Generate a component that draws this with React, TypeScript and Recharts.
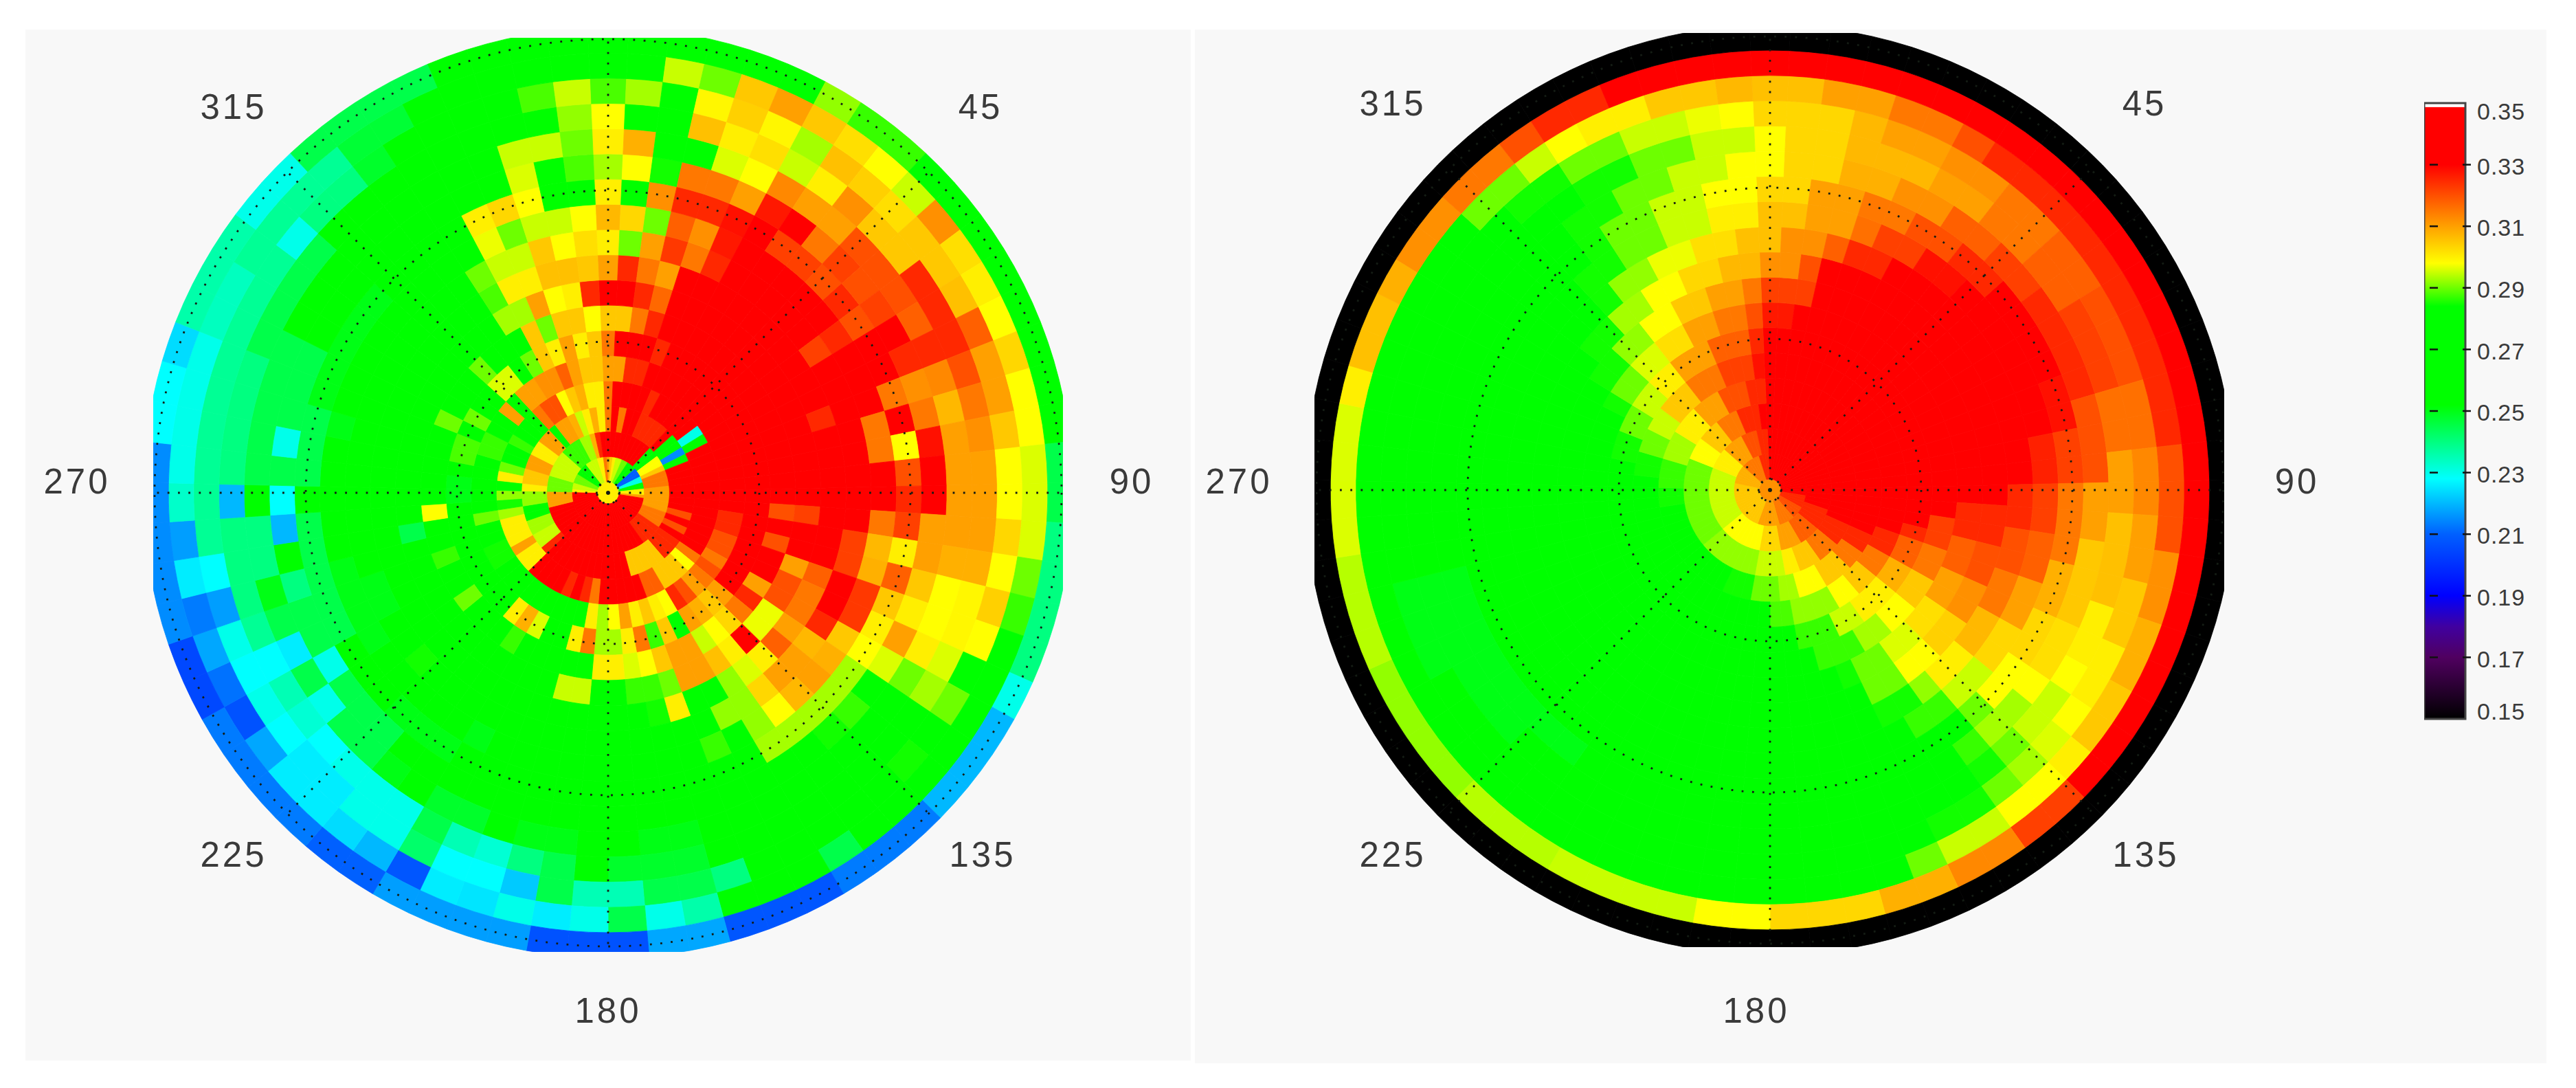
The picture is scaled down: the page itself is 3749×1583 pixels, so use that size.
import { Area, AreaChart, Cell, Pie, PieChart, PolarGrid, ReferenceArea, XAxis, YAxis } from "recharts";

// every ring is a list of [clockwise degrees from north, value]; a value holds until the next entry
type Ring = number[][];

const sectorCount = 71;

const leftCenter: Ring = [[0, .3]];
const left00: Ring = [[0, .31], [5, .305], [10, .3], [15, .295], [25, .29], [35, .275], [50, .21], [65, .23], [75, .27], [85, .3], [95, .31], [100, .33], [270, .3], [275, .295], [285, .29], [300, .283], [320, .295], [340, .3], [350, .315]];
const left01: Ring = [[0, .33], [45, .27], [55, .298], [62, .305], [70, .315], [85, .31], [110, .315], [125, .325], [145, .33], [255, .31], [270, .29], [285, .295], [310, .287], [330, .293], [340, .308], [347, .325], [350, .33]];
const left02: Ring = [[0, .315], [3, .33], [10, .315], [15, .33], [25, .325], [45, .33], [48, .27], [58, .215], [63, .26], [69, .33], [103, .32], [110, .33], [113, .32], [118, .33], [125, .325], [140, .305], [165, .33], [226, .325], [233, .295], [243, .293], [253, .28], [262, .292], [270, .3], [277, .305], [288, .31], [299, .3], [307, .31], [316, .27], [323, .31], [330, .308], [338, .295], [342, .3], [346, .308], [351, .3], [355, .315]];
const left03: Ring = [[0, .315], [3, .33], [23, .325], [28, .33], [53, .23], [58, .27], [63, .33], [125, .315], [131, .298], [136, .305], [152, .318], [160, .33], [187, .315], [192, .325], [197, .33], [201, .325], [207, .33], [228, .3], [234, .31], [243, .3], [255, .293], [261, .285], [266, .292], [271, .27], [276, .3], [282, .29], [289, .27], [295, .287], [302, .27], [318, .315], [324, .32], [330, .298], [337, .305], [342, .308], [347, .3]];
const left04: Ring = [[0, .31], [8, .325], [18, .33], [100, .325], [110, .32], [118, .315], [123, .32], [128, .315], [133, .31], [138, .32], [143, .325], [149, .298], [155, .3], [160, .305], [165, .3], [171, .31], [176, .298], [182, .293], [187, .3], [192, .27], [235, .285], [248, .27], [255, .29], [262, .27], [286, .287], [296, .27], [305, .31], [314, .27], [318, .31], [326, .312], [335, .31], [339, .318], [344, .31], [349, .305], [355, .31]];
const left05: Ring = [[0, .315], [3, .33], [20, .325], [25, .33], [130, .31], [134, .305], [138, .308], [143, .31], [149, .27], [155, .305], [160, .287], [166, .315], [172, .3], [176, .293], [184, .315], [191, .3], [196, .27], [204, .296], [209, .308], [215, .3], [222, .27], [268, .25], [276, .27], [283, .288], [290, .27], [296, .29], [302, .27], [313, .296], [320, .275], [325, .29], [330, .305], [336, .3], [341, .31], [346, .3], [351, .305], [357, .315]];
const left06: Ring = [[0, .305], [8, .315], [13, .325], [18, .33], [94, .32], [100, .33], [104, .32], [110, .33], [119, .31], [125, .325], [130, .315], [135, .303], [140, .298], [145, .295], [151, .31], [158, .305], [164, .298], [170, .296], [176, .3], [183, .283], [188, .27], [211, .287], [216, .27], [231, .29], [236, .27], [245, .287], [251, .27], [261, .298], [266, .27], [291, .29], [296, .27], [312, .29], [318, .27], [333, .305], [338, .29], [344, .305], [350, .298], [355, .31]];
const left07: Ring = [[0, .33], [8, .325], [13, .317], [18, .33], [93, .322], [100, .33], [108, .31], [116, .32], [125, .297], [133, .33], [139, .3], [145, .306], [151, .31], [158, .29], [165, .287], [176, .27], [184, .295], [196, .27], [256, .245], [262, .27], [296, .283], [302, .27], [328, .293], [335, .31], [341, .298], [347, .3], [352, .325], [357, .33]];
const left08: Ring = [[0, .31], [3, .325], [8, .315], [13, .31], [18, .33], [68, .325], [74, .33], [108, .318], [116, .315], [124, .31], [130, .318], [135, .3], [140, .296], [145, .292], [151, .27], [158, .3], [165, .285], [172, .27], [210, .28], [216, .27], [240, .255], [246, .27], [306, .283], [312, .27], [326, .288], [334, .3], [341, .306], [352, .305]];
const left09: Ring = [[0, .3], [3, .29], [8, .31], [13, .323], [18, .315], [23, .325], [27, .33], [53, .322], [58, .33], [100, .322], [108, .33], [117, .325], [124, .307], [130, .31], [137, .303], [144, .292], [156, .27], [166, .283], [174, .27], [225, .285], [231, .27], [240, .25], [250, .27], [300, .283], [308, .27], [326, .29], [334, .295], [341, .305], [347, .298], [353, .302]];
const left10: Ring = [[0, .307], [3, .303], [8, .29], [12, .318], [17, .312], [22, .327], [27, .33], [53, .325], [58, .33], [73, .315], [83, .33], [94, .315], [99, .307], [105, .308], [110, .323], [118, .305], [123, .308], [128, .31], [135, .307], [140, .298], [146, .292], [152, .27], [155, .287], [160, .283], [167, .27], [205, .25], [211, .27], [235, .25], [255, .27], [272, .255], [278, .27], [282, .25], [287, .27], [330, .297], [338, .29], [343, .295], [352, .298]];
const left11: Ring = [[0, .3], [3, .283], [8, .312], [13, .325], [23, .328], [28, .33], [33, .322], [43, .32], [48, .325], [53, .32], [58, .33], [68, .315], [73, .33], [78, .298], [84, .32], [88, .325], [94, .322], [99, .3], [104, .318], [110, .305], [114, .3], [120, .298], [126, .293], [152, .27], [208, .25], [216, .27], [218, .25], [226, .27], [240, .245], [268, .26], [272, .245], [285, .25], [305, .27], [306, .25], [311, .27], [330, .3], [336, .303], [341, .298], [346, .283], [356, .298]];
const left12: Ring = [[0, .293], [3, .298], [8, .285], [13, .315], [23, .31], [28, .327], [33, .33], [36, .315], [41, .322], [46, .32], [51, .322], [57, .33], [63, .325], [68, .312], [73, .315], [78, .328], [84, .33], [87, .32], [90, .33], [96, .31], [103, .305], [108, .3], [113, .31], [118, .296], [124, .27], [129, .287], [134, .285], [140, .27], [222, .245], [236, .23], [241, .245], [250, .24], [256, .258], [261, .22], [266, .228], [271, .245], [277, .23], [282, .245], [295, .27], [332, .283], [338, .277], [342, .296], [347, .27], [352, .288], [358, .3]];
const left13: Ring = [[0, .3], [3, .308], [8, .27], [13, .283], [18, .296], [23, .298], [28, .313], [33, .31], [43, .32], [58, .318], [63, .325], [69, .313], [74, .307], [79, .31], [101, .308], [106, .298], [114, .3], [119, .29], [124, .27], [167, .25], [177, .27], [183, .25], [193, .262], [198, .248], [210, .255], [216, .25], [222, .245], [230, .23], [236, .245], [241, .226], [246, .245], [250, .25], [255, .24], [266, .26], [271, .245], [295, .27], [343, .295], [352, .29], [358, .292]];
const left14: Ring = [[0, .298], [3, .27], [8, .283], [13, .306], [18, .3], [23, .302], [28, .295], [33, .3], [38, .312], [43, .305], [53, .325], [70, .32], [73, .315], [78, .312], [84, .31], [100, .308], [105, .299], [115, .296], [118, .288], [120, .293], [125, .284], [130, .27], [167, .248], [178, .255], [184, .245], [190, .24], [196, .232], [202, .235], [207, .245], [212, .23], [225, .228], [232, .232], [236, .235], [240, .228], [247, .238], [252, .24], [266, .22], [272, .24], [290, .245], [310, .27], [352, .292], [358, .298]];
const left15: Ring = [[0, .288], [3, .293], [8, .27], [13, .299], [18, .304], [23, .299], [28, .293], [33, .306], [38, .304], [43, .302], [48, .305], [58, .306], [63, .318], [68, .31], [79, .305], [84, .298], [96, .303], [101, .298], [106, .304], [111, .298], [116, .27], [120, .29], [125, .27], [130, .285], [135, .27], [160, .24], [165, .245], [175, .235], [185, .245], [190, .222], [195, .228], [205, .242], [210, .23], [222, .226], [230, .228], [236, .23], [240, .228], [245, .23], [250, .217], [256, .228], [261, .238], [305, .24], [307, .23], [313, .24], [320, .248], [329, .27], [347, .288], [352, .295], [357, .288]];
const left16: Ring = [[0, .27], [8, .295], [15, .29], [20, .305], [25, .31], [30, .305], [35, .302], [40, .298], [45, .295], [50, .312], [55, .302], [60, .3], [65, .298], [70, .303], [75, .298], [84, .296], [100, .29], [105, .287], [110, .27], [140, .253], [145, .245], [150, .253], [165, .236], [170, .23], [175, .245], [180, .23], [185, .226], [190, .23], [195, .225], [200, .226], [205, .208], [210, .22], [215, .224], [220, .226], [230, .218], [235, .207], [240, .212], [245, .218], [250, .213], [255, .226], [260, .217], [265, .233], [270, .23], [290, .234], [300, .238], [320, .247], [332, .252], [338, .27]];
const left17: Ring = [[0, .27], [18, .282], [23, .27], [28, .292], [34, .287], [44, .27], [84, .245], [94, .24], [114, .23], [119, .22], [135, .213], [150, .208], [165, .218], [175, .207], [190, .217], [210, .21], [221, .213], [241, .205], [251, .215], [276, .228], [285, .224], [292, .236], [307, .23], [318, .245], [337, .27]];

const rightCenter: Ring = [[0, .312]];
const right00: Ring = [[0, .33], [100, .325], [120, .32], [140, .315], [165, .31], [200, .305], [280, .308], [310, .315], [340, .325]];
const right01: Ring = [[0, .33], [110, .325], [130, .318], [150, .31], [170, .303], [190, .298], [230, .295], [290, .3], [310, .31], [330, .32], [345, .325], [355, .33]];
const right02: Ring = [[0, .33], [112, .325], [128, .315], [142, .305], [158, .3], [172, .295], [190, .292], [230, .29], [290, .298], [308, .305], [322, .315], [338, .325], [350, .33]];
const right03: Ring = [[0, .33], [112, .325], [125, .315], [135, .305], [148, .298], [163, .293], [175, .29], [192, .285], [205, .275], [230, .27], [262, .285], [272, .287], [288, .293], [303, .3], [318, .31], [333, .32], [345, .325], [355, .33]];
const right04: Ring = [[0, .33], [108, .325], [118, .315], [130, .305], [140, .298], [152, .292], [168, .288], [182, .284], [195, .27], [275, .285], [285, .29], [295, .295], [308, .305], [323, .315], [338, .322], [350, .328]];
const right05: Ring = [[0, .33], [102, .325], [110, .318], [120, .308], [130, .3], [142, .295], [157, .287], [172, .27], [282, .285], [290, .29], [300, .295], [310, .3], [323, .31], [338, .318], [350, .325]];
const right06: Ring = [[0, .327], [8, .33], [97, .322], [108, .315], [120, .305], [130, .298], [140, .293], [150, .287], [165, .27], [295, .285], [302, .29], [310, .296], [320, .302], [330, .31], [340, .315], [350, .32]];
const right07: Ring = [[0, .322], [12, .33], [95, .325], [105, .318], [115, .31], [125, .302], [135, .296], [145, .29], [155, .285], [162, .27], [300, .285], [310, .292], [320, .298], [330, .305], [340, .31], [350, .315]];
const right08: Ring = [[0, .312], [6, .32], [15, .33], [92, .325], [104, .32], [115, .312], [125, .304], [135, .298], [144, .29], [153, .283], [160, .27], [308, .285], [316, .293], [326, .298], [336, .303], [346, .307]];
const right09: Ring = [[0, .306], [3, .312], [12, .318], [20, .325], [27, .33], [88, .325], [100, .32], [110, .315], [120, .307], [130, .3], [140, .292], [147, .285], [155, .27], [315, .285], [322, .292], [330, .297], [340, .302], [350, .306]];
const right10: Ring = [[0, .306], [7, .31], [17, .316], [25, .322], [32, .328], [42, .33], [78, .326], [90, .322], [100, .318], [110, .31], [120, .303], [130, .295], [140, .287], [148, .27], [319, .285], [327, .29], [336, .295], [346, .3], [355, .306]];
const right11: Ring = [[0, .303], [9, .31], [19, .315], [29, .32], [39, .325], [50, .33], [67, .328], [78, .322], [90, .315], [102, .308], [113, .303], [124, .298], [133, .29], [141, .283], [150, .27], [215, .262], [235, .27], [321, .285], [329, .29], [338, .295], [348, .298]];
const right12: Ring = [[0, .298], [2, .303], [12, .308], [22, .312], [32, .318], [42, .322], [55, .325], [75, .32], [87, .31], [100, .305], [112, .302], [122, .298], [130, .293], [137, .287], [145, .28], [155, .27], [215, .25], [255, .27], [323, .285], [332, .29], [341, .295], [351, .298]];
const right13: Ring = [[0, .298], [5, .303], [15, .307], [27, .31], [37, .315], [47, .318], [58, .322], [72, .316], [82, .31], [92, .306], [107, .3], [117, .298], [125, .295], [132, .29], [139, .285], [147, .28], [153, .27], [225, .25], [255, .27], [325, .285], [335, .29], [345, .295], [355, .298]];
const right14: Ring = [[0, .303], [12, .307], [20, .31], [27, .312], [37, .315], [47, .318], [57, .32], [72, .316], [82, .313], [92, .31], [102, .305], [112, .3], [123, .298], [128, .296], [134, .293], [140, .29], [147, .285], [155, .27], [240, .25], [255, .27], [315, .285], [326, .29], [336, .295], [346, .297], [353, .298]];
const right15: Ring = [[0, .306], [7, .31], [17, .315], [27, .32], [33, .325], [85, .32], [97, .312], [107, .308], [117, .305], [127, .3], [133, .298], [147, .295], [153, .29], [162, .283], [170, .27], [305, .284], [313, .29], [323, .295], [328, .298], [333, .3], [342, .305], [352, .307]];
const right16: Ring = [[0, .33], [135, .322], [146, .313], [156, .308], [167, .303], [178, .298], [192, .295], [212, .294], [225, .292], [248, .294], [263, .296], [279, .3], [288, .306], [295, .308], [303, .312], [313, .315], [320, .32], [328, .325], [337, .33]];
const right17: Ring = [[0, .15]];

const leftRings = [left00, left01, left02, left03, left04, left05, left06, left07, left08, left09, left10, left11, left12, left13, left14, left15, left16, left17];
const rightRings = [right00, right01, right02, right03, right04, right05, right06, right07, right08, right09, right10, right11, right12, right13, right14, right15, right16, right17];

const gridAngles = [0, 45, 90, 135, 180, 225, 270, 315];
const gridRadii = [16, 220, 440, 660];

const angleLabels = ["315", "45", "135", "225", "180", "270", "90"];
const leftLabelSpots = [[340, 155], [1427, 155], [1430, 1243], [340, 1243], [885, 1470], [112, 700], [1647, 700]];
const rightLabelSpots = [[2027, 150], [3121, 150], [3123, 1243], [2027, 1243], [2556, 1470], [1803, 700], [3343, 700]];

const scaleTicks = [0.15, 0.17, 0.19, 0.21, 0.23, 0.25, 0.27, 0.29, 0.31, 0.33, 0.35];
const scaleEnds = [{ x: 0, top: 0.35 }, { x: 1, top: 0.35 }];

// colour table
const colorStops: [number, number[]][] = [
    [0.15, [0, 0, 0]],
    [0.17, [80, 0, 96]],
    [0.18, [64, 0, 160]],
    [0.19, [0, 0, 255]],
    [0.21, [0, 96, 255]],
    [0.228, [0, 255, 255]],
    [0.252, [0, 255, 0]],
    [0.284, [0, 255, 0]],
    [0.298, [255, 255, 0]],
    [0.31, [255, 160, 0]],
    [0.33, [255, 0, 0]],
    [0.35, [255, 0, 0]],
];

function colorOf(value: number) {
    for (let i = 1; i < colorStops.length; i++) {
        const [v0, c0] = colorStops[i - 1];
        const [v1, c1] = colorStops[i];
        if (value <= v1) {
            const t = Math.max(0, (value - v0) / (v1 - v0));
            const [r, g, b] = c0.map((c, k) => Math.round(c + (c1[k] - c) * t));
            return `rgb(${r},${g},${b})`;
        }
    }
    return "rgb(255,0,0)";
}

function expandRing(ring: Ring) {
    const cells = [];
    for (let i = 0; i < sectorCount; i++) {
        const angle = (i * 360) / sectorCount;
        let value = ring[0][1];
        for (const [from, v] of ring) {
            if (angle >= from) value = v;
        }
        cells.push({ span: 1, value });
    }
    return cells;
}

const halfSector = 180 / sectorCount;

function PolarPanel({ rings, center, left, top, cx, cy }: { rings: Ring[]; center: Ring; left: number; top: number; cx: number; cy: number }) {
    return (
        <>
            <div style={{ position: "absolute", left, top }}>
                <PieChart width={1324} height={1330} margin={{ top: 0, right: 0, bottom: 0, left: 0 }}>
                    <Pie data={[{ span: 1, value: center[0][1] }]} dataKey="span" cx={cx} cy={cy} innerRadius={0} outerRadius={16} stroke="none" fill={colorOf(center[0][1])} isAnimationActive={false} />
                    {rings.map((ring, k) => (
                        <Pie
                            key={k}
                            data={expandRing(ring)}
                            dataKey="span"
                            cx={cx}
                            cy={cy}
                            innerRadius={16 + 36.7 * k}
                            outerRadius={16 + 36.7 * (k + 1)}
                            startAngle={90 + halfSector}
                            endAngle={90 + halfSector - 360}
                            isAnimationActive={false}
                        >
                            {expandRing(ring).map((cell, i) => (
                                <Cell key={i} fill={colorOf(cell.value)} stroke={colorOf(cell.value)} strokeWidth={0.8} />
                            ))}
                        </Pie>
                    ))}
                </PieChart>
            </div>
            {/* the dotted grid sits over the sectors, so it gets its own chart on top */}
            <div style={{ position: "absolute", left, top }}>
                <PieChart width={1324} height={1330} margin={{ top: 0, right: 0, bottom: 0, left: 0 }} cx={cx} cy={cy} innerRadius={0} outerRadius={660}>
                    <PolarGrid
                        cx={cx}
                        cy={cy}
                        innerRadius={0}
                        outerRadius={660}
                        polarAngles={gridAngles}
                        polarRadius={gridRadii}
                        gridType="circle"
                        stroke="#141c14"
                        strokeWidth={2.8}
                        strokeDasharray="2.8 12.4"
                    />
                </PieChart>
            </div>
        </>
    );
}

function AngleLabels({ spots }: { spots: number[][] }) {
    return (
        <>
            {angleLabels.map((label, i) => (
                <div
                    key={label}
                    style={{
                        position: "absolute",
                        left: spots[i][0],
                        top: spots[i][1],
                        transform: "translate(-50%, -50%)",
                        fontFamily: "'Liberation Sans'",
                        fontSize: 51,
                        letterSpacing: 4,
                        color: "#3a3a3a",
                    }}
                >
                    {label}
                </div>
            ))}
        </>
    );
}

function ScaleTick({ x, y, payload }: any) {
    const nudge = payload.value === 0.35 ? 12 : payload.value === 0.15 ? -11 : 2;
    const inner = payload.value !== 0.35 && payload.value !== 0.15;
    return (
        <g>
            {inner && <line x1={x - 60} x2={x - 48} y1={y} y2={y} stroke="#111" strokeWidth={2.5} />}
            {inner && <line x1={x - 12} x2={x} y1={y} y2={y} stroke="#111" strokeWidth={2.5} />}
            <text x={x + 9} y={y + nudge} dy="0.36em" fontFamily="'Liberation Sans'" fontSize={34} letterSpacing={1} fill="#3a3a3a">
                {payload.value.toFixed(2)}
            </text>
        </g>
    );
}

function ColorBar() {
    return (
        <div style={{ position: "absolute", left: 3528, top: 130 }}>
            <AreaChart width={160} height={936} data={scaleEnds} margin={{ top: 20, right: 0, bottom: 20, left: 0 }}>
                <defs>
                    <linearGradient id="scaleFill" x1="0" y1="0" x2="0" y2="1">
                        <stop offset={0} stopColor="#ffffff" />
                        <stop offset={0.006} stopColor="#ffffff" />
                        <stop offset={0.007} stopColor="#ff0000" />
                        {colorStops.slice().reverse().slice(1).map(([v, c]) => (
                            <stop key={v} offset={(0.35 - v) / 0.2} stopColor={`rgb(${c.join(",")})`} />
                        ))}
                    </linearGradient>
                </defs>
                <XAxis dataKey="x" type="number" domain={[0, 1]} hide />
                <YAxis
                    type="number"
                    domain={[0.15, 0.35]}
                    ticks={scaleTicks}
                    orientation="right"
                    width={100}
                    axisLine={false}
                    tickLine={false}
                    tick={<ScaleTick />}
                    interval={0}
                />
                <Area dataKey="top" type="linear" baseValue={0.15} fill="url(#scaleFill)" fillOpacity={1} stroke="none" isAnimationActive={false} />
                <ReferenceArea x1={0} x2={1} y1={0.15} y2={0.35} fill="none" stroke="#444" strokeWidth={3} />
            </AreaChart>
        </div>
    );
}

export default function App() {
    return (
        <div style={{ position: "absolute", left: 0, top: 0, width: 3749, height: 1583, background: "#fff", overflow: "hidden" }}>
            <div style={{ position: "absolute", left: 37, top: 43, width: 1696, height: 1500, background: "#f8f8f8" }} />
            <div style={{ position: "absolute", left: 1739, top: 43, width: 1967, height: 1504, background: "#f8f8f8" }} />
            <PolarPanel rings={leftRings} center={leftCenter} left={223} top={55} cx={662} cy={662} />
            <PolarPanel rings={rightRings} center={rightCenter} left={1913} top={48} cx={663} cy={665} />
            <AngleLabels spots={leftLabelSpots} />
            <AngleLabels spots={rightLabelSpots} />
            <ColorBar />
        </div>
    );
}
